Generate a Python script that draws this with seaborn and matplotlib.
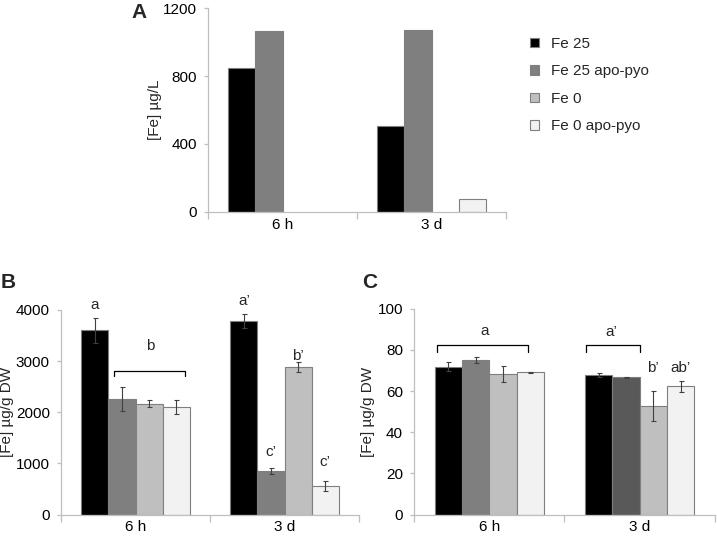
import matplotlib
matplotlib.use("Agg")
import matplotlib.pyplot as plt
from matplotlib.container import BarContainer
import seaborn as sns
import pandas as pd
import numpy as np

groups = ["6 h", "3 d"]
treatments = ["Fe 25", "Fe 25 apo-pyo", "Fe 0", "Fe 0 apo-pyo"]
colors = ["#000000", "#7f7f7f", "#bfbfbf", "#f2f2f2"]

# Panel A: [Fe] ug/L
a_6h = [848, 1063, 0, 0]
a_3d = [505, 1069, 0, 78]

# Panel B: [Fe] ug/g DW (mean, error)
b_6h = [3600, 2260, 2170, 2100]
b_6h_err = [240, 230, 60, 140]
b_3d = [3780, 850, 2880, 550]
b_3d_err = [135, 60, 100, 100]

# Panel C: [Fe] ug/g DW (mean, error)
c_6h = [71.9, 75.1, 68.2, 69.1]
c_6h_err = [2.0, 1.3, 4.0, 0.3]
c_3d = [67.9, 66.7, 52.6, 62.3]
c_3d_err = [1.0, 0.2, 7.3, 2.8]

b_letters_6h = ["a", "", "", ""]
b_letters_3d = ["a\u2019", "c\u2019", "b\u2019", "c\u2019"]
c_letters_3d = ["", "", "b\u2019", "ab\u2019"]


def frame(v6, v3, e6=None, e3=None):
    rows = []
    for g, vals, errs in [("6 h", v6, e6), ("3 d", v3, e3)]:
        for i, t in enumerate(treatments):
            rows.append({"group": g, "treat": t, "value": vals[i],
                         "err": (errs[i] if errs is not None else 0)})
    return pd.DataFrame(rows)


sns.set_theme(style="white")
plt.rcParams["font.family"] = ["Liberation Sans", "DejaVu Sans"]
plt.rcParams["font.size"] = 10

fig = plt.figure(figsize=(7.17, 5.36), dpi=100)
W, H = 717, 536


def ax_px(x0, x1, ybot, ytop):
    return fig.add_axes([x0 / W, 1 - ybot / H, (x1 - x0) / W, (ybot - ytop) / H])


axA = ax_px(208, 506, 212, 8)
axB = ax_px(61, 359, 514.5, 310)
axC = ax_px(414, 715, 514.5, 308.8)

spine_col = "#bfbfbf"


def style(ax, ymax, ystep):
    ax.set_xlim(-0.5, 1.5)
    ax.set_ylim(0, ymax)
    ax.set_yticks(np.arange(0, ymax + 1e-9, ystep))
    for s in ["top", "right"]:
        ax.spines[s].set_visible(False)
    for s in ["left", "bottom"]:
        ax.spines[s].set_color(spine_col)
        ax.spines[s].set_linewidth(0.9)
    ax.set_xticks([0, 1])
    ax.set_xticklabels(groups)
    ax.set_xticks([-0.5, 0.5, 1.5], minor=True)
    ax.tick_params(axis="x", which="major", length=0, pad=4, labelsize=11, colors="#000000")
    ax.tick_params(axis="x", which="minor", length=5, width=0.9, color=spine_col, bottom=True)
    ax.tick_params(axis="y", which="major", length=3, width=0.9, color=spine_col, pad=5,
                   labelsize=11, labelcolor="#000000", left=True)
    ax.set_xlabel("")
    ax.grid(False)


def draw(ax, df, errs=True):
    sns.barplot(data=df, x="group", y="value", hue="treat", hue_order=treatments,
                order=groups, palette=colors, errorbar=None, width=0.725,
                edgecolor="#7f7f7f", linewidth=0.8, ax=ax, legend=False, saturation=1)
    bar_conts = [c for c in ax.containers if isinstance(c, BarContainer)]
    centers = {}
    for hi, cont in enumerate(bar_conts):
        for gi, bar in enumerate(list(cont.patches)):
            cx = bar.get_x() + bar.get_width() / 2
            centers[(gi, hi)] = cx
            if bar.get_height() == 0:
                bar.set_linewidth(0)
            if errs:
                row = df[(df.group == groups[gi]) & (df.treat == treatments[hi])].iloc[0]
                if row.err > 0:
                    ax.errorbar(cx, row.value, yerr=row.err, fmt="none", ecolor="#404040",
                                elinewidth=0.8, capsize=1.8, capthick=0.8, zorder=5)
    return centers, bar_conts


# Panel A
dfA = frame(a_6h, a_3d)
draw(axA, dfA, errs=False)
style(axA, 1200, 400)
axA.set_ylabel("[Fe] \u00b5g/L", fontsize=11)
axA.yaxis.set_label_coords(-0.154, 0.5)
handles = [plt.Rectangle((0, 0), 1, 1, facecolor=c, edgecolor="#7f7f7f", linewidth=0.8)
           for c in colors]
axA.legend(handles, treatments, loc="upper left", bbox_to_anchor=(530 / W, 1 - 37 / H),
           bbox_transform=fig.transFigure, frameon=False, handlelength=0.6,
           handleheight=0.6, labelspacing=0.88, handletextpad=0.75, fontsize=11,
           borderaxespad=0, borderpad=0)

# Panel B
dfB = frame(b_6h, b_3d, b_6h_err, b_3d_err)
cB, _ = draw(axB, dfB)
style(axB, 4000, 1000)
axB.set_ylabel("[Fe] \u00b5g/g DW", fontsize=11)
axB.yaxis.set_label_coords(-0.158, 0.5)
for hi, t in enumerate(b_letters_6h):
    if t:
        axB.text(cB[(0, hi)], 4100, t, ha="center", va="center", fontsize=11, clip_on=False)
b_let_y = [4170, 1225, 3100, 1030]
for hi, t in enumerate(b_letters_3d):
    axB.text(cB[(1, hi)], b_let_y[hi], t, ha="center", va="center", fontsize=11, clip_on=False)
bx0, bx1, by, byt = -0.145, 0.333, 2807, 2715
axB.plot([bx0, bx0, bx1, bx1], [byt, by, by, byt], color="#000000", lw=0.9, clip_on=False)
axB.text(0.098, 3295, "b", ha="center", va="center", fontsize=11)

# Panel C
dfC = frame(c_6h, c_3d, c_6h_err, c_3d_err)
cC, contsC = draw(axC, dfC)
contsC[1].patches[1].set_facecolor("#595959")
style(axC, 100, 20)
axC.set_ylabel("[Fe] \u00b5g/g DW", fontsize=11)
axC.yaxis.set_label_coords(-0.13, 0.5)
cy, cyt = 82.4, 79.0
for x0, x1 in [(-0.349, 0.256), (1 - 0.359, 1.0)]:
    axC.plot([x0, x0, x1, x1], [cyt, cy, cy, cyt], color="#000000", lw=0.9, clip_on=False)
axC.text(-0.03, 89.2, "a", ha="center", va="center", fontsize=11)
axC.text(1 - 0.186, 88.7, "a\u2019", ha="center", va="center", fontsize=11)
for hi, t in enumerate(c_letters_3d):
    if t:
        axC.text(cC[(1, hi)], 71.2, t, ha="center", va="center", fontsize=11)

# Panel letters
fig.text(131 / W, 1 - 12 / H, "A", fontsize=15, fontweight="bold", ha="left", va="center")
fig.text(1 / W, 1 - 282 / H, "B", fontsize=15, fontweight="bold", ha="left", va="center")
fig.text(362 / W, 1 - 282 / H, "C", fontsize=15, fontweight="bold", ha="left", va="center")

fig.savefig("out.png", dpi=100)
